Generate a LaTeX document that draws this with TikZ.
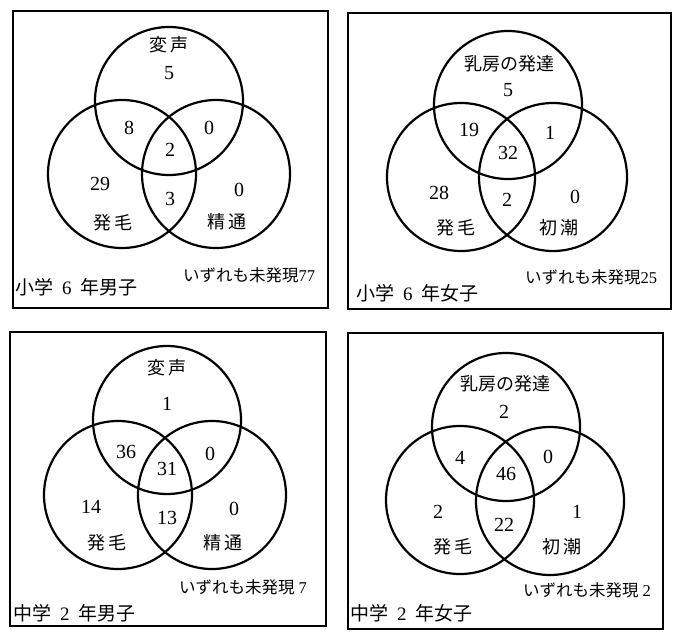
\documentclass[tikz,border=0pt]{standalone}
\usepackage{fontspec}
\setmainfont{Liberation Serif}
\newfontfamily\jp{Noto Sans CJK JP}
\begin{document}
\begin{tikzpicture}[x=1pt,y=-1pt,
  frame/.style={draw, line width=2pt, anchor=north west, inner sep=0pt},
  ring/.style={draw, circle, line width=2.2pt, minimum size=148pt, inner sep=0pt},
  num/.style={inner sep=0pt, font=\fontsize{20}{20}\selectfont},
  lab/.style={inner sep=0pt, font=\fontsize{18}{18}\selectfont\jp},
  note/.style={inner sep=0pt, font=\fontsize{16.5}{17}\selectfont\jp},
  title/.style={inner sep=0pt, anchor=west, font=\fontsize{19}{19}\selectfont\jp}]
\useasboundingbox (0,0) rectangle (677,632);

% ---------- Panel 1 ----------
\node[frame, minimum width=315pt, minimum height=297pt] (box1) at (12,10) {};
\node[ring] (c1t) at (169,101) {};
\node[ring] (c1l) at (122,174) {};
\node[ring] (c1r) at (216,174) {};
\node[lab] (l1a) at (169,45) {変\kern3pt 声};
\node[num] (n1a) at (169,73) {5};
\node[num] (n1b) at (129,128) {8};
\node[num] (n1c) at (209,128) {0};
\node[num] (n1d) at (170,150) {2};
\node[num] (n1e) at (100,184) {29};
\node[num] (n1f) at (170,199) {3};
\node[num] (n1g) at (239,190) {0};
\node[lab] (l1b) at (113,223) {発\kern3pt 毛};
\node[lab] (l1c) at (227,222) {精\kern3pt 通};
\node[note] (o1) at (249,275) {いずれも未発現{\rmfamily 77}};
\node[title] (t1) at (15,287) {小学\hspace{9pt}{\rmfamily 6}\hspace{9pt}年男子};

% ---------- Panel 2 ----------
\node[frame, minimum width=323pt, minimum height=296pt] (box2) at (347,12) {};
\node[ring] (c2t) at (508,105) {};
\node[ring] (c2l) at (461,177) {};
\node[ring] (c2r) at (553,177) {};
\node[lab] (l2a) at (509,64) {乳房の発達};
\node[num] (n2a) at (508,90) {5};
\node[num] (n2b) at (469,130) {19};
\node[num] (n2c) at (550,133) {1};
\node[num] (n2d) at (508,153) {32};
\node[num] (n2e) at (439,193) {28};
\node[num] (n2f) at (507,200) {2};
\node[num] (n2g) at (575,197) {0};
\node[lab] (l2b) at (456,228) {発\kern3pt 毛};
\node[lab] (l2c) at (559,228) {初\kern3pt 潮};
\node[note] (o2) at (591,277) {いずれも未発現{\rmfamily 25}};
\node[title] (t2) at (356,293) {小学\hspace{9pt}{\rmfamily 6}\hspace{9pt}年女子};

% ---------- Panel 3 ----------
\node[frame, minimum width=316pt, minimum height=294pt] (box3) at (9,331) {};
\node[ring] (c3t) at (167,420) {};
\node[ring] (c3l) at (118,495) {};
\node[ring] (c3r) at (212,495) {};
\node[lab] (l3a) at (167,368) {変\kern3pt 声};
\node[num] (n3a) at (167,404) {1};
\node[num] (n3b) at (126,452) {36};
\node[num] (n3c) at (210,454) {0};
\node[num] (n3d) at (167,469) {31};
\node[num] (n3e) at (91,507) {14};
\node[num] (n3f) at (167,518) {13};
\node[num] (n3g) at (234,509) {0};
\node[lab] (l3b) at (107,543) {発\kern3pt 毛};
\node[lab] (l3c) at (223,543) {精\kern3pt 通};
\node[note] (o3) at (243,587) {いずれも未発現\hspace{4pt}{\rmfamily 7}};
\node[title] (t3) at (13,613) {中学\hspace{9pt}{\rmfamily 2}\hspace{9pt}年男子};

% ---------- Panel 4 ----------
\node[frame, minimum width=315pt, minimum height=296pt] (box4) at (347,332) {};
\node[ring] (c4t) at (506,427) {};
\node[ring] (c4l) at (460,500) {};
\node[ring] (c4r) at (550,501) {};
\node[lab] (l4a) at (505,384) {乳房の発達};
\node[num] (n4a) at (504,412) {2};
\node[num] (n4b) at (460,458) {4};
\node[num] (n4c) at (548,457) {0};
\node[num] (n4d) at (506,474) {46};
\node[num] (n4e) at (438,512) {2};
\node[num] (n4f) at (504,525) {22};
\node[num] (n4g) at (577,512) {1};
\node[lab] (l4b) at (453,547) {発\kern3pt 毛};
\node[lab] (l4c) at (562,547) {初\kern3pt 潮};
\node[note] (o4) at (587,590) {いずれも未発現\hspace{4pt}{\rmfamily 2}};
\node[title] (t4) at (350,613) {中学\hspace{9pt}{\rmfamily 2}\hspace{9pt}年女子};
\end{tikzpicture}
\end{document}
